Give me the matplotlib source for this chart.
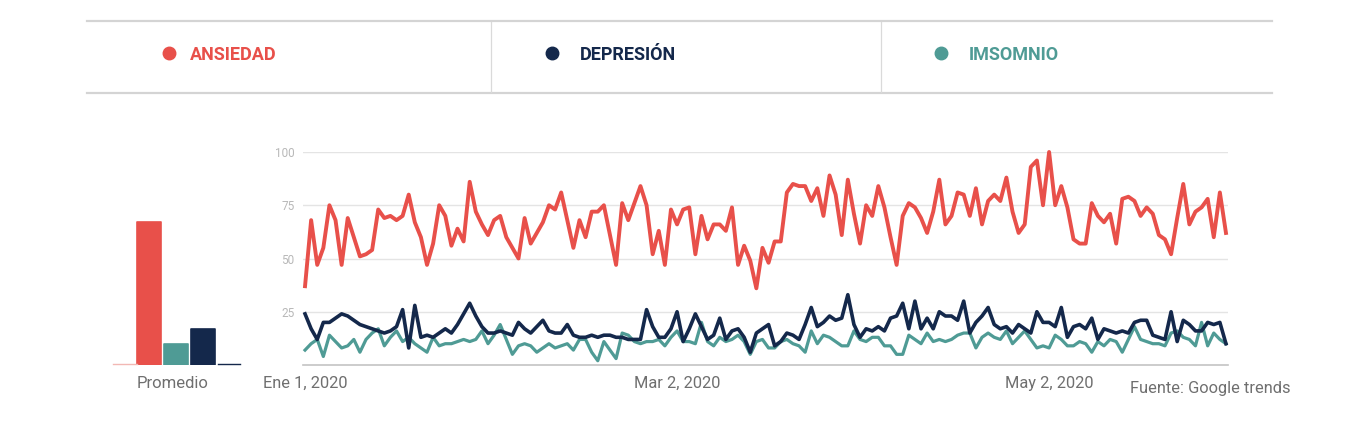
import matplotlib
matplotlib.use("Agg")
import matplotlib.pyplot as plt
import pandas as pd
import numpy as np

# ─── data (Google Trends, daily, Jan 1 – May 31 2020) ───────────────────────
series_names = ["ANSIEDAD", "DEPRESIÓN", "IMSOMNIO"]

ansiedad = [37, 68, 47, 55, 75, 68, 47, 69, 60, 51, 52, 54, 73, 69, 70, 68, 70, 80, 67, 60,
            47, 57, 75, 70, 56, 64, 58, 86, 72, 66, 61, 68, 70, 60, 55, 50, 69, 57, 62, 67,
            75, 73, 81, 68, 55, 68, 60, 72, 72, 75, 61, 47, 76, 68, 76, 84, 75, 52, 63, 47,
            73, 66, 73, 74, 52, 70, 59, 66, 66, 63, 74, 47, 56, 49, 36, 55, 48, 58, 58, 81,
            85, 84, 84, 77, 83, 70, 89, 80, 61, 87, 71, 57, 75, 70, 84, 74, 60, 47, 70, 76,
            74, 69, 62, 72, 87, 66, 70, 81, 80, 70, 83, 66, 77, 80, 77, 88, 72, 62, 66, 93,
            96, 75, 100, 75, 84, 74, 59, 57, 57, 76, 70, 67, 71, 57, 78, 79, 77, 70, 74, 71,
            61, 59, 52, 69, 85, 66, 72, 74, 78, 60, 81, 62]

depresion = [24, 17, 12, 20, 20, 22, 24, 23, 21, 19, 18, 17, 16, 15, 16, 18, 26, 8, 28, 13,
             14, 13, 15, 17, 15, 19, 24, 29, 23, 18, 15, 15, 16, 15, 14, 20, 17, 15, 18, 21,
             16, 15, 15, 19, 14, 13, 13, 14, 13, 14, 14, 13, 13, 12, 12, 12, 26, 18, 13, 13,
             17, 25, 11, 17, 24, 18, 12, 14, 22, 12, 16, 17, 13, 6, 15, 17, 19, 9, 11, 15,
             14, 12, 19, 27, 18, 20, 23, 21, 22, 33, 19, 13, 17, 16, 18, 16, 22, 23, 29, 17,
             30, 17, 22, 17, 25, 23, 23, 21, 30, 15, 20, 23, 27, 19, 17, 18, 15, 19, 17, 15,
             25, 20, 20, 18, 27, 13, 18, 19, 17, 22, 12, 17, 16, 15, 16, 15, 20, 21, 21, 14,
             13, 12, 25, 11, 21, 19, 16, 16, 20, 19, 20, 10]

imsomnio = [7, 10, 12, 4, 14, 11, 8, 9, 12, 6, 12, 15, 17, 9, 13, 16, 11, 13, 10, 8,
            6, 13, 9, 10, 10, 11, 12, 11, 12, 16, 10, 14, 19, 12, 5, 9, 10, 9, 6, 8,
            10, 8, 9, 10, 7, 12, 12, 6, 2, 11, 7, 3, 15, 14, 11, 10, 11, 11, 12, 9,
            13, 16, 11, 11, 10, 20, 11, 9, 13, 11, 12, 14, 11, 5, 11, 12, 8, 8, 11, 12,
            10, 9, 6, 16, 10, 14, 13, 11, 9, 9, 16, 12, 11, 13, 13, 9, 9, 5, 5, 14,
            12, 10, 15, 11, 12, 11, 12, 14, 15, 15, 8, 13, 15, 13, 12, 16, 10, 13, 16, 12,
            8, 9, 8, 14, 12, 9, 9, 11, 10, 6, 11, 9, 12, 11, 6, 12, 18, 12, 11, 10,
            10, 9, 15, 16, 13, 12, 9, 20, 9, 15, 12, 10]

# averages shown in the small bar chart (order as drawn: ansiedad, imsomnio, depresion)
promedio = [67, 10, 17]

dates = pd.date_range("2020-01-01", periods=len(ansiedad), freq="D")
tick_dates = pd.to_datetime(["2020-01-01", "2020-03-02", "2020-05-02"])
tick_labels = ["Ene 1, 2020", "Mar 2, 2020", "May 2, 2020"]
y_ticks = [25, 50, 75, 100]

# ─── style ──────────────────────────────────────────────────────────────────
RED = "#E8504A"
NAVY = "#14284B"
TEAL = "#4F9B95"
plt.rcParams["font.family"] = ["Roboto", "DejaVu Sans"]

W, H = 1346, 422
fig = plt.figure(figsize=(W / 100, H / 100), dpi=100)
fig.patch.set_facecolor("white")


def px_rect(x0, y0, x1, y1):
    return [x0 / W, 1 - y1 / H, (x1 - x0) / W, (y1 - y0) / H]


# ─── overlay in pixel coordinates for the legend strip ─────────────────────
ov = fig.add_axes([0, 0, 1, 1], zorder=0)
ov.set_xlim(0, W)
ov.set_ylim(H, 0)
ov.axis("off")

ov.plot([87, 1272], [21, 21], color="#d4d4d4", lw=1.6)
ov.plot([87, 1272], [93, 93], color="#d4d4d4", lw=1.6)
for xs in (491, 881):
    ov.plot([xs, xs], [22, 92], color="#dadada", lw=0.9)

legend_pos = [(169, 190), (552, 580), (941, 969)]
colors = [RED, NAVY, TEAL]
for (dx, tx), name, c in zip(legend_pos, series_names, colors):
    ov.plot(dx, 53, "o", color=c, ms=9)
    ov.text(tx, 55, name, color=c, fontsize=13, fontweight="bold",
            ha="left", va="center")

# ─── main line chart ────────────────────────────────────────────────────────
ax = fig.add_axes(px_rect(303, 152, 1228, 365), zorder=2)
ax.patch.set_alpha(0)
half_day = pd.Timedelta(hours=8)
ax.set_xlim(dates[0] - half_day, dates[-1] + half_day)
ax.set_ylim(0, 100)

ax.plot(dates, imsomnio, color=TEAL, lw=2.3, clip_on=False, zorder=3,
        solid_joinstyle="round")
ax.plot(dates, depresion, color=NAVY, lw=2.6, clip_on=False, zorder=4,
        solid_joinstyle="round")
ax.plot(dates, ansiedad, color=RED, lw=2.8, clip_on=False, zorder=5,
        solid_joinstyle="round")

ax.set_yticks(y_ticks)
ax.set_yticklabels([str(v) for v in y_ticks])
ax.grid(axis="y", color="#e4e4e4", lw=1.0)
ax.set_axisbelow(True)
ax.set_xticks(tick_dates)
ax.set_xticklabels(tick_labels)
ax.tick_params(axis="y", length=0, pad=6, labelsize=8.5, labelcolor="#b8b8b8")
ax.tick_params(axis="x", length=0, pad=8, labelsize=11.8, labelcolor="#6f6f6f")
for s in ("top", "right", "left"):
    ax.spines[s].set_visible(False)
ax.spines["bottom"].set_color("#c4c4c4")
ax.spines["bottom"].set_linewidth(1.2)

# ─── small "Promedio" bar chart ─────────────────────────────────────────────
bx = fig.add_axes(px_rect(113, 152, 240, 365), zorder=2)
bx.patch.set_alpha(0)
bx.set_xlim(-1.36, 3.38)
bx.set_ylim(0, 100)
bx.bar([0, 1, 2], promedio, width=0.9, color=[RED, TEAL, NAVY],
       edgecolor=[RED, TEAL, NAVY], linewidth=1.2, joinstyle="round")
bx.plot([-1.36, -0.47], [0.3, 0.3], color="#f2b8b4", lw=1.0, clip_on=False)
bx.plot([2.55, 3.38], [0.3, 0.3], color=NAVY, lw=1.0, clip_on=False)
bx.axis("off")

fig.text(173 / W, 1 - 384 / H, "Promedio", fontsize=12, color="#6f6f6f",
         ha="center", va="center")
fig.text(1130 / W, 1 - 389 / H, "Fuente: Google trends", fontsize=11.8,
         color="#6f6f6f", ha="left", va="center")

fig.savefig("out.png", dpi=100, facecolor="white")
